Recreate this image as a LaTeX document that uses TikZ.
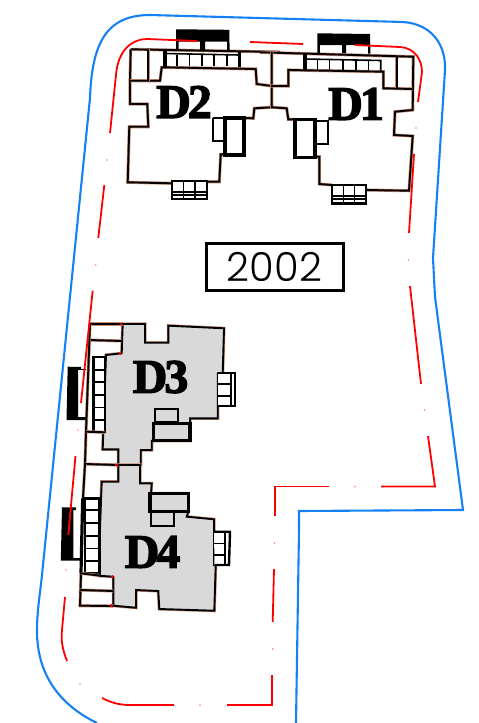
\documentclass[tikz,border=0pt]{standalone}
\usepackage{fontspec}
\newfontfamily\platefont[UprightFont=* Light]{Poppins}
\font\unitfont="Liberation Serif/B:embolden=2.8" at 48pt
\definecolor{limitblue}{RGB}{20,130,245}
\definecolor{slabgrey}{RGB}{217,217,217}
\definecolor{wallbrown}{RGB}{200,140,115}
\tikzset{
  limitline/.style={draw=limitblue,line width=2.1pt},
  setback/.style={draw=red,line width=1.8pt},
  wall/.style={preaction={draw=wallbrown,line width=3.1pt},draw=black,line width=1.9pt},
  thickwall/.style={draw=black,line width=3.2pt},
  thinwall/.style={draw=black,line width=1.6pt},
  unitlabel/.style={inner sep=0pt,font=\unitfont},
}
\begin{document}
\begin{tikzpicture}[x=1pt,y=-1pt]
\useasboundingbox (0,0) rectangle (479,723);
\fill[white] (0,0) rectangle (479,723);
% plot limit
\draw[limitline] (97,723) .. controls (60,705) and (37,675) .. (37,631) .. controls (37,610) and (40,595) .. (42,575) -- (90,98) .. controls (92,45) and (105,15) .. (150,15) -- (403,22) .. controls (432,24) and (446,45) .. (445,70) -- (433,258) -- (435,297) -- (463,510) -- (299,511) -- (299,530) -- (296,723);
% D2
\draw[wall] (130.7,49.3) -- (280,52);
\draw[wall] (130.7,49.3) -- (130,80.7) -- (130,104) -- (147.3,104) -- (148.3,126.7) -- (129.3,126.7) -- (127.7,182.3) -- (171.7,183.3);
\draw[wall] (206.7,181.7) -- (219.3,181.7) -- (220.7,154.3) -- (225,154.3);
\draw[wall] (130,80.7) -- (160,80.7) -- (161.7,67.3) -- (255.7,69) -- (256.7,84) -- (271.7,86);
\draw[wall] (148.3,49.3) -- (148.3,80.7);
\draw[wall] (244,118) -- (253.3,118.3) -- (254.3,108.3) -- (271.7,107.3);
\draw[thickwall] (225,118) rectangle (244,155);
\draw[thickwall,line width=2.3pt] (212.7,118) -- (225,118) (212.7,118) -- (212.7,140.7) -- (225,140.7);
\draw[thickwall] (165,49.3) -- (165,67.3) (239.3,51.7) -- (239.3,67.3);
\draw[thinwall] (165,53.5) -- (239.3,55);
\draw[thinwall] (176.7,55) -- (176.7,66) (189.3,55) -- (189.3,66) (201.7,55) -- (201.7,66) (214,55) -- (214,66) (226.7,55) -- (226.7,66);
\fill[black] (176,29.3) -- (229.3,29.8) -- (229.6,50) -- (227,50) -- (227,41.5) -- (205,41.5) -- (205,50) -- (200,50) -- (200,41.5) -- (178.5,41.5) -- (178.5,50) -- (176,50) -- cycle;
\draw[thickwall,line width=2.4pt] (171.7,181) rectangle (206.7,198.7);
\draw[thinwall] (183.3,181) -- (183.3,198.7) (195,181) -- (195,198.7) (171.7,191.7) -- (206.7,191.7) (171.7,195) -- (206.7,195);
% D1
\draw[wall] (260,52.3) -- (413.3,56.7) -- (412.7,110) -- (395,111.7) -- (394,135) -- (412.7,136) -- (409,190.7) -- (366,190);
\draw[wall] (331.7,185) -- (319.3,184) -- (319.3,156.7) -- (315,156.7);
\draw[wall] (271.7,52) -- (271.7,107.3) -- (286.7,108.3) -- (288.3,119.3) -- (295,119.3);
\draw[wall] (271,86) -- (288.3,86) -- (288.3,70) -- (383.3,71.7) -- (383.3,88.3) -- (412.7,89);
\draw[wall] (396.7,56.7) -- (396.7,88.3);
\draw[thickwall] (295,119.3) rectangle (315,157.3);
\draw[thickwall,line width=2.3pt] (315,120.7) -- (328.3,120.7) -- (328.3,144.3) -- (315,144.3);
\draw[thickwall] (305,54) -- (305,70.7);
\draw[thinwall] (305,59) -- (380.7,60.5) -- (380.7,70.7);
\draw[thinwall] (317.3,60) -- (317.3,70) (329.3,60) -- (329.3,70) (342.7,60) -- (342.7,70) (355.7,60) -- (355.7,70) (368.3,60) -- (368.3,70);
\fill[black] (317.3,33.3) -- (370,34) -- (370.5,53.5) -- (368,53.5) -- (368,45) -- (346,45) -- (346,53) -- (342,53) -- (342,45) -- (319.8,45) -- (319.8,53) -- (317.3,53) -- cycle;
\draw[thickwall,line width=2.4pt] (331.7,185) rectangle (366,203.3);
\draw[thinwall] (343.3,185) -- (343.3,203.3) (354.3,185) -- (354.3,203.3) (331.7,195.7) -- (366,195.7) (331.7,199) -- (366,199);
% D3
\draw[wall,fill=slabgrey] (122.7,324) -- (145,324) -- (145,342.7) -- (168.3,342.7) -- (168.3,325.7) -- (224,328.3) -- (222.7,373.3) -- (217.7,373.3) -- (217.7,418.3) -- (190,418.3) -- (190,440.7) -- (151.7,440.7) -- (151.7,450) -- (140.7,450) -- (140.7,465) -- (118.3,465) -- (118.3,449.3) -- (102.7,449.3) -- (106,355) -- (121.7,353.3) -- cycle;
\draw[wall] (90,324) -- (122.7,324);
\draw[wall] (89,340) -- (122,341);
\draw[wall] (90,324) -- (86,431.7) -- (85,464);
\draw[thickwall] (153.3,423.3) rectangle (190,440.7);
\draw[thickwall,line width=2.3pt] (155,423) -- (155,409.3) -- (178.3,409.3) -- (178.3,421.7) -- (155,421.7);
\draw[thickwall,line width=2.4pt,fill=white] (93.3,356.7) rectangle (105,431.7);
\draw[thinwall] (93.3,370) -- (105,370) (93.3,381.7) -- (105,381.7) (93.3,395) -- (105,395) (93.3,407.3) -- (105,407.3) (93.3,420) -- (105,420);
\draw[wall] (86,431.7) -- (105,432.3);
\fill[black] (67.7,366.7) -- (81,367) -- (81,369.5) -- (78,369.5) -- (78,418) -- (85,418) -- (85,420) -- (66.5,420) -- cycle;
\draw[thinwall] (78,369.5) -- (86,369.5) (78,418) -- (86,418);
\draw[thickwall,line width=2.4pt,fill=white] (218.3,372.7) -- (235,372.7) -- (235,406) -- (218.3,406);
\draw[thinwall] (218.3,384) -- (231,384) (218.3,396) -- (231,396) (231,373) -- (231,406);
% D4
\draw[wall,fill=slabgrey] (118.3,465) -- (140,465) -- (140,483.3) -- (151.7,483.3) -- (151,493.3) -- (188.3,493.3) -- (188.3,511.7) -- (186.7,516.7) -- (214,519.3) -- (214,565) -- (215.7,565) -- (214.3,610.7) -- (159.3,609) -- (158.3,591) -- (136,590) -- (136,607.7) -- (113.3,605.7) -- (113.3,576.7) -- (98.3,575.7) -- (101.7,481.7) -- (118.3,481.7) -- cycle;
\draw[wall] (85,464) -- (118.3,465);
\draw[thickwall] (150,493.3) rectangle (188.3,511.7);
\draw[thickwall,line width=2.3pt] (151,511.7) -- (151,525.7) -- (174,525.7) -- (174,511.7);
\draw[wall] (85,464) -- (83,498);
\draw[thickwall] (82.7,498.3) -- (81,573);
\draw[thickwall,line width=2.4pt,fill=white] (85,498.3) rectangle (99.3,573.3);
\draw[thickwall,line width=2.4pt] (82,498.3) -- (85,498.3);
\draw[thinwall] (85,510) -- (99.3,510) (85,522.7) -- (99.3,522.7) (85,536) -- (99.3,536) (85,548.3) -- (99.3,548.3) (85,561) -- (99.3,561);
\draw[wall] (81,573) -- (80,605.7) -- (113.3,606);
\draw[wall] (80.5,590) -- (113.3,591);
\draw[wall] (81,573.3) -- (99,575.5);
\fill[black] (62,507.3) -- (76,507.3) -- (76,510) -- (73.3,510) -- (73.5,558) -- (81,558) -- (81,560.7) -- (60.8,560.7) -- cycle;
\draw[thickwall,line width=2.4pt,fill=white] (214,531.7) -- (230,531.7) -- (229,565) -- (214.5,565);
\draw[thinwall] (214,543.3) -- (225,543.3) (214,555) -- (225,555) (225,532) -- (225,565);
% setback
\draw[setback] (110,133) -- (116,75) .. controls (118,50) and (132,39) .. (147,39) -- (197,41);
\draw[setback] (250,42) -- (303,44);
\draw[setback] (355,45) -- (400,47) .. controls (415,48) and (422,60) .. (422,72) -- (418,102);
\draw[setback] (414,154) -- (409,233);
\draw[setback] (410,286) -- (421,384);
\draw[setback] (428,436) -- (435,486.5) -- (381,486.5);
\draw[setback] (329,486.5) -- (275,486.5) -- (275,516);
\draw[setback] (274,569) -- (272.7,622);
\draw[setback] (272,675) -- (272,705) -- (227,705);
\draw[setback] (174,705) -- (130,705) .. controls (118,705) and (110,702) .. (102,698);
\draw[setback] (67,661) .. controls (62,648) and (61,640) .. (62,630) -- (65,597);
\draw[setback] (68.3,535) -- (75.5,456);
\draw[setback] (81,403) -- (92.7,290.7);
\draw[setback] (104.3,185) -- (98.3,238);
\foreach \dotx/\doty in {107/160,95.7/265,78/430,66/570,80/684,200/705,272.5/649,274.5/543,355/486.5,424.5/410,408.5/260,416/128}
  \fill[red!50] (\dotx,\doty) circle (0.9pt);
\fill[red] (121,324.5) circle (1.4pt) (120.5,353.5) circle (1.5pt) (116.5,465) circle (1.7pt) (112.5,576.5) circle (1.5pt) (111.5,605.5) circle (1.6pt);
\node[unitlabel] (labeltwo) at (184,102) {D\kern-3pt 2};
\node[unitlabel] (labelone) at (356,104) {D\kern-3pt 1};
\node[unitlabel] (labelthree) at (160.5,377) {D\kern-3pt 3};
\node[unitlabel] (labelfour) at (152.5,552) {D\kern-3pt 4};
\node[draw=black,line width=3pt,minimum width=137pt,minimum height=47pt,inner sep=0pt,font=\fontsize{40}{40}\selectfont\platefont] (plate) at (274.5,266.5) {2002};
\end{tikzpicture}
\end{document}
